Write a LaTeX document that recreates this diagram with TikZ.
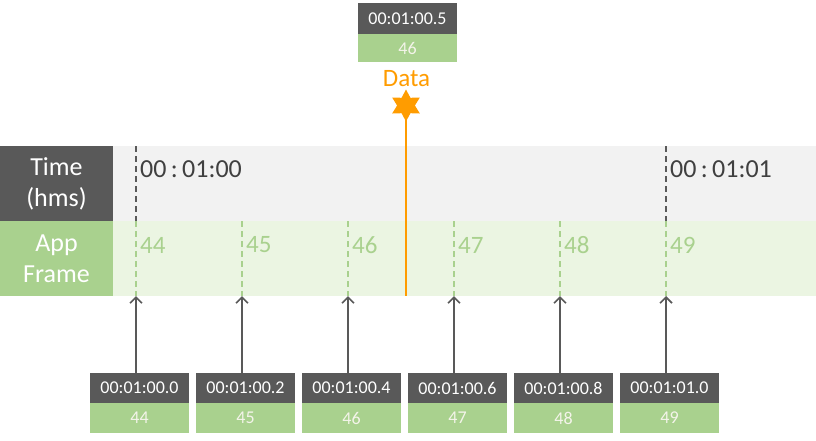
\documentclass[tikz,border=0pt]{standalone}
\usepackage{fontspec}
\setmainfont{Carlito}
\usetikzlibrary{shapes.geometric,arrows.meta}
\definecolor{dk}{HTML}{595959}
\definecolor{gr}{HTML}{A9D18E}
\definecolor{lgray}{HTML}{F2F2F2}
\definecolor{lgreen}{HTML}{EBF5E2}
\definecolor{org}{HTML}{FF9C00}
\definecolor{tdark}{HTML}{404040}
\definecolor{cream}{HTML}{F4F4EA}
\tikzset{
  lbl/.style={inner sep=0pt, minimum width=113pt, minimum height=75pt, align=center, text=white, font=\fontsize{26}{31}\selectfont},
  band/.style={inner sep=0pt, minimum width=703pt, minimum height=75pt, anchor=west},
  tlabel/.style={inner sep=0pt, anchor=west, text=tdark, font=\fontsize{26}{30}\selectfont},
  flabel/.style={inner sep=0pt, anchor=west, text=gr, font=\fontsize{25}{30}\selectfont},
  tsbox/.style={fill=dk, inner sep=0pt, minimum width=99pt, minimum height=30pt, text=white, font=\fontsize{18}{20}\selectfont},
  frbox/.style={fill=gr, inner sep=0pt, minimum width=99pt, minimum height=30pt, text=cream, font=\fontsize{18}{20}\selectfont},
  tdash/.style={draw=dk, line width=1.6pt, dash pattern=on 6pt off 4pt},
  fdash/.style={draw=gr, line width=1.6pt, dash pattern=on 6pt off 4pt},
  arr/.style={draw=dk, line width=2pt, -{Straight Barb[length=6pt,width=12pt,line width=1.6pt]}},
}
\begin{document}
\begin{tikzpicture}[x=1pt,y=-1pt]
\useasboundingbox[fill=white] (0,0) rectangle (816,440);
% rows
\node[band, fill=lgray] (tband) at (113,183.5) {};
\node[band, fill=lgreen] (fband) at (113,258.5) {};
\node[lbl, fill=dk] (tl) at (56.5,183.5) {Time\\(hms)};
\node[lbl, fill=gr] (fl) at (56.5,258.5) {App\\Frame};
% time grid lines
\coordinate (t0a) at (136,146); \coordinate (t0b) at (136,221);
\coordinate (t1a) at (666,146); \coordinate (t1b) at (666,221);
\draw[tdash] (t0a) -- (t0b);
\draw[tdash] (t1a) -- (t1b);
\node[tlabel] (tt0) at (140,169) {00\,:\,01:00};
\node[tlabel] (tt1) at (670,169) {00\,:\,01:01};
% frame grid lines, arrows, boxes
\foreach \i/\f/\ts in {0/44/00:01:00.0,1/45/00:01:00.2,2/46/00:01:00.4,3/47/00:01:00.6,4/48/00:01:00.8,5/49/00:01:01.0}{
  \coordinate (fa\i) at ({136+106*\i},221);
  \coordinate (fb\i) at ({136+106*\i},296);
  \draw[fdash] (fa\i) -- (fb\i);
  \node[flabel] (fn\i) at ({140+106*\i},245) {\f};
  \node[tsbox] (ts\i) at ({139.5+106*\i},388) {\ts};
  \node[frbox] (fr\i) at ({139.5+106*\i},418) {\f};
  \draw[arr] (ts\i.north -| fb\i) -- (fb\i);
}
% data event
\node[tsbox, minimum height=31pt] (dts) at (407.5,18.5) {00:01:00.5};
\node[frbox, minimum height=28pt] (dfr) at (407.5,48) {46};
\node[inner sep=0pt, text=org, font=\fontsize{25}{28}\selectfont] (data) at (406.5,79) {Data};
\node[star, star points=6, star point ratio=1.8, minimum size=32pt, inner sep=0pt, fill=org] (st) at (406,105.5) {};
\coordinate (de) at (406,296);
\draw[org, line width=2pt] (st.center) -- (de);
\end{tikzpicture}
\end{document}
